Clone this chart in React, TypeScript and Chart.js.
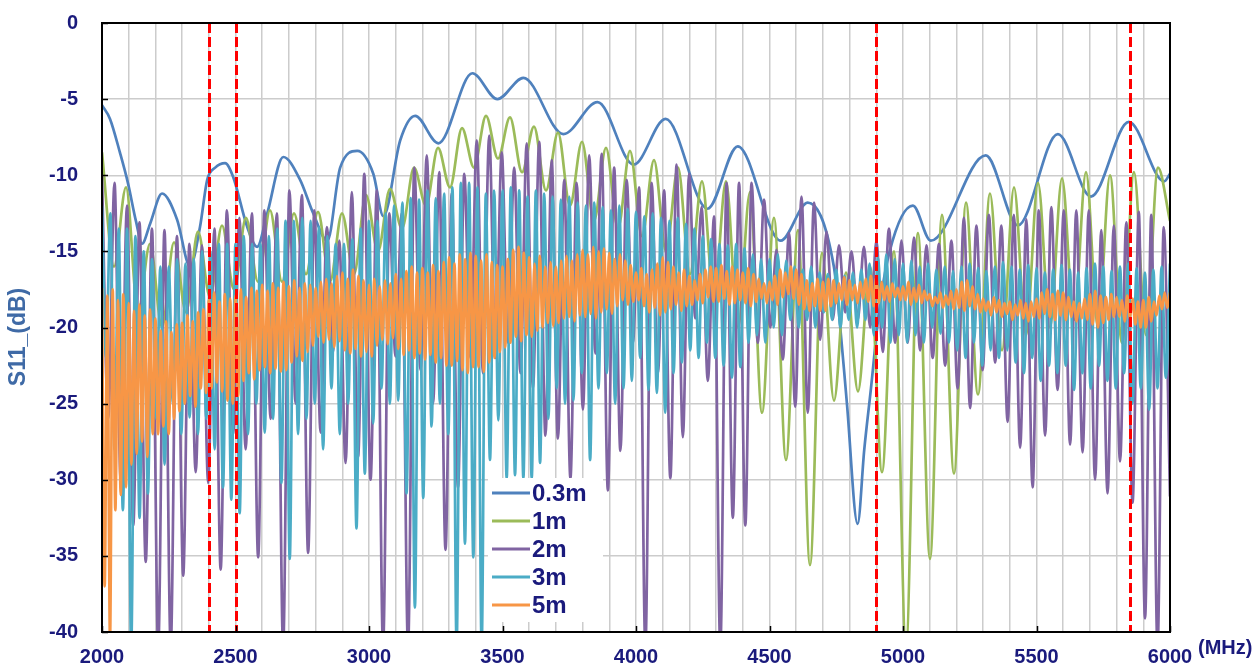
import React, { useEffect, useRef } from 'react';
import { Chart, registerables } from 'chart.js';
Chart.register(...registerables);

// ---------- axis / labels ----------
const FREQ_MIN = 2000;
const FREQ_MAX = 6000;
const FREQ_GRID_STEP = 100;
const FREQ_LABEL_STEP = 500;
const DB_MIN = -40;
const DB_MAX = 0;
const DB_STEP = 5;
const X_UNIT = '(MHz)';
const Y_TITLE = 'S11_(dB)';
const SERIES_NAMES = ['0.3m', '1m', '2m', '3m', '5m'];
const SERIES_COLORS = ['#4F81BD', '#9BBB59', '#8064A2', '#4BACC6', '#F79646'];
const MARKER_FREQS = [2400, 2500, 4900, 5850];

// ---------- 0.3m (explicit points) ----------
const L03_FREQ = [2000, 2030, 2067, 2097, 2127, 2150, 2180, 2225, 2281, 2330, 2367, 2394, 2424, 2461, 2491,
  2544, 2581, 2619, 2679, 2742, 2791, 2844, 2892, 2956, 3016, 3054, 3117, 3173, 3260, 3387,
  3481, 3578, 3728, 3856, 3991, 4111, 4268, 4381, 4542, 4643, 4741, 4760, 4790, 4830, 4855,
  4880, 4910, 4950, 5037, 5104, 5310, 5430, 5580, 5704, 5846, 5978, 6000];
const L03_DB = [-5.4, -6.3, -8.5, -10.5, -13, -14.5, -13.2, -11.2, -12.9, -16, -13.4, -10.3, -9.5, -9.2, -10.1,
  -13.4, -14.7, -12.5, -8.8, -10.3, -12.5, -14.3, -9.5, -8.4, -9.9, -12.7, -7.7, -6.1, -7.9, -3.3,
  -5.0, -3.6, -7.3, -5.2, -9.3, -6.3, -12.2, -8.1, -14.3, -11.8, -16, -19, -25, -32.9, -28,
  -24, -19, -15, -12.0, -14.3, -8.7, -13.3, -7.3, -11.4, -6.5, -10.4, -9.9];

// ---------- 1m (alternating peak / trough, evenly spaced) ----------
const L1_PEAKS = [-8.5, -10.8, -14.5, -14.4, -13.7, -13.3, -12.8, -12.3, -12.5, -12.4,
  -12.5, -11.3, -10.9, -9.5, -8.2, -6.9, -6.1, -6.2, -6.8, -7.2,
  -7.8, -8.2, -8.4, -9.0, -9.5, -10.4, -10.4, -11.1, -12.8, -13.6,
  -15.1, -16.4, -16.0, -15.0, -13.8, -12.6, -11.8, -11.2, -10.8, -10.5,
  -10.2, -9.8, -10.0, -9.8, -9.5];
const L1_TROUGHS = [-16, -19, -20, -19, -18, -17.5, -17, -17, -16.5, -17,
  -16.5, -15, -13.5, -12, -10.8, -9.5, -8.9, -9.8, -11, -12,
  -13, -13.5, -14, -15, -16.5, -18, -20, -25.6, -28.7, -35.6,
  -24.8, -24.2, -29.5, -41, -35.2, -29.6, -24.4, -21.5, -20.5, -20,
  -19.5, -20, -21, -20.5];
const L1_END = -13;

// ---------- 2m ----------
const L2_START = -10;
const L2_TROUGHS = [-26, -30, -33, -35.4, -41, -41, -36.3, -29.5, -30.2, -35.9,
  -27, -28, -35.1, -26, -41, -25, -34.8, -26.9, -21.6, -28.9,
  -28.5, -30, -41, -21.9, -41, -22.8, -25, -34.6, -30.5, -22,
  -23, -22, -21, -23, -24, -27.1, -27.3, -29.9, -25.4, -21.7,
  -30.7, -28.1, -21, -41, -23, -29.9, -27.2, -19.4, -23.5, -41,
  -32.5, -33, -21, -20, -22.1, -25.2, -25.6, -20.8, -19.5, -19,
  -19.5, -20, -21.6, -21, -21, -21.5, -22, -22.5, -24, -25.3,
  -22.8, -22.3, -26.2, -27.9, -30.5, -27.1, -24.1, -27.7, -28.2, -30,
  -30.9, -28.8, -31.5, -39.1, -41];
const L2_PEAKS = [-10.5, -12.0, -13.1, -13.5, -13.6, -14.0, -14.5, -14.6, -13.5, -12.3,
  -12.8, -12.5, -12.3, -12.5, -11.0, -11.3, -12.3, -13.4, -14.3, -11.1,
  -9.9, -11.0, -12.5, -12.5, -9.5, -8.7, -9.8, -11.2, -9.9, -7.7,
  -7.4, -8.5, -9.5, -7.9, -7.8, -9.0, -10.3, -10.5, -8.7, -8.6,
  -9.5, -10.3, -10.8, -10.5, -11.0, -9.3, -9.9, -12.1, -12.7, -10.5,
  -10.5, -10.5, -11.6, -14.9, -13.8, -11.4, -11.8, -13.7, -14.6, -15.0,
  -14.7, -14.3, -13.5, -14.3, -14.1, -14.6, -14.5, -14.3, -12.8, -13.3,
  -12.6, -13.3, -12.6, -12.9, -12.3, -12.1, -12.3, -12.3, -12.3, -13.6,
  -13.3, -13.1, -12.4, -12.6, -13.4];
const L2_END = -31.1;

// ---------- 3m ----------
const L3_PEAKS = [-12, -12.5, -13.5, -13.5, -14, -15, -15.5, -16, -16, -15.5,
  -15.8, -15.5, -15, -15, -14.5, -14.5, -14.5, -14, -14.5, -14.5,
  -14, -13.5, -13, -13, -12.8, -13, -13.4, -14, -14.5, -14.5,
  -14.2, -13.5, -13, -13, -12.5, -12, -11.8, -11.5, -11.6, -11,
  -11.5, -11.2, -10.8, -10.5, -10.5, -10.8, -11.2, -11, -11, -10.8,
  -11, -11.4, -11, -11.2, -11.4, -11.6, -11.4, -11.8, -12, -11.8,
  -12.1, -12.3, -12, -12.2, -12.4, -12.7, -12.5, -12.8, -13, -12.8,
  -13.2, -13.5, -14, -14.2, -14.5, -14.6, -14.5, -14.8, -15.2, -15.5,
  -15.5, -15.2, -15.6, -16, -16.2, -16, -16.4, -16.5, -16.2, -16.6,
  -16.4, -16.2, -15.8, -15.4, -15.2, -15.5, -15.8, -15.6, -16, -15.8,
  -16.2, -16, -16.3, -16, -15.8, -16.1, -16.3, -16, -15.7, -16,
  -16.2, -15.9, -16.1, -16.4, -16.2, -15.9, -16.2, -16.4, -16.1, -15.8,
  -16, -16.3, -16, -15.8, -16.1, -16.4, -16.2, -16, -15.8];
const L3_TROUGHS = [-22, -28, -32, -41, -32.5, -30.9, -26, -29, -25, -27,
  -25.9, -27, -26, -28, -30.5, -31.3, -32.2, -27, -25, -26.9,
  -26, -30.2, -35.2, -27, -26, -25, -28, -24, -27, -25,
  -33.2, -29.6, -26.3, -24, -25, -24.8, -30.9, -38.4, -31.2, -26.5,
  -25, -27, -41, -34.2, -35.1, -41, -28.7, -26.1, -29.9, -29.7,
  -29.9, -29.9, -28.9, -26, -24, -25, -24.8, -23, -28.7, -24,
  -23, -25, -24, -23.5, -22, -24.1, -24.3, -25.6, -23, -22.3,
  -21.5, -22, -21, -22, -22.5, -23.3, -22.6, -21, -20.5, -21,
  -20, -20.5, -19.5, -20, -19.5, -20, -19, -19.5, -20, -19.5,
  -20, -19.5, -20.5, -20, -21, -20.5, -21, -20.5, -21, -20,
  -20.4, -21, -21.5, -22, -21, -22.5, -21.5, -22, -21.5, -22.3,
  -23, -22, -23.5, -22.5, -23, -22.5, -24.1, -23, -24, -22.5,
  -23.5, -24, -23, -25, -24, -25.4, -24, -23.3];

// ---------- 5m ----------
const L5_PEAKS = [-17.4, -17.9, -17.5, -18.2, -17.8, -18.4, -18.9, -18.5, -19.2, -18.8,
  -19.4, -20.2, -19.6, -20.3, -19.8, -19.7, -19.2, -19.6, -19.0, -18.8,
  -18.2, -17.7, -18.3, -17.8, -18.1, -17.9, -17.5, -18.0, -17.4, -17.6,
  -17.2, -17.6, -17.1, -17.4, -17.0, -17.3, -16.9, -17.4, -17.1, -17.2,
  -17.4, -17.0, -16.8, -17.1, -16.6, -16.4, -16.8, -16.2, -16.6, -16.9,
  -17.2, -16.8, -17.3, -16.9, -17.1, -16.5, -16.8, -16.3, -16.0, -16.4,
  -16.1, -16.4, -15.9, -16.3, -15.7, -15.4, -15.8, -15.2, -15.5, -15.1,
  -15.3, -15.6, -15.2, -15.7, -15.9, -16.0, -15.5, -14.9, -14.7, -15.1,
  -15.4, -15.8, -15.3, -16.0, -15.7, -16.0, -15.6, -15.3, -15.6, -15.2,
  -14.9, -15.2, -14.7, -15.0, -14.8, -15.1, -15.5, -15.2, -15.6, -15.9,
  -16.4, -16.1, -16.5, -16.2, -15.8, -15.4, -15.7, -16.0, -16.4, -16.2,
  -16.6, -16.9, -16.5, -16.2, -16.0, -16.1, -15.9, -16.3, -16.0, -16.2,
  -16.4, -16.1, -16.5, -16.8, -17.1, -17.0, -16.6, -16.2, -16.4, -16.0,
  -16.2, -16.5, -16.9, -17.1, -16.8, -17.0, -16.8, -16.9, -17.1, -16.7,
  -16.9, -17.2, -17.0, -16.8, -16.6, -16.7, -17.0, -17.3, -17.1, -17.4,
  -17.3, -17.0, -17.4, -17.2, -17.6, -17.8, -18.0, -17.7, -17.9, -17.6,
  -17.5, -17.0, -16.9, -17.3, -17.8, -18.1, -18.3, -18.0, -18.2, -18.4,
  -18.3, -18.5, -18.2, -18.4, -18.3, -18.1, -17.7, -17.5, -17.8, -17.6,
  -17.7, -18.0, -18.3, -18.4, -18.1, -17.8, -17.6, -17.9, -18.0, -17.8,
  -18.0, -18.2, -17.9, -18.1, -18.3, -18.2, -18.0, -18.3, -17.9, -17.7,
  -17.7];
const L5_TROUGHS = [-37, -40.5, -32, -31, -30.5, -29, -28.3, -27.5, -28.5, -27,
  -27, -26.5, -27, -26, -25.5, -25, -24.5, -25.2, -24, -24.3,
  -24, -23.6, -24.2, -24.8, -25, -24.5, -23.5, -23, -23.4, -22.8,
  -22.6, -23, -22.7, -22.9, -22.8, -22.3, -21.9, -22.2, -21.6, -21.2,
  -20.6, -21, -20.8, -21.3, -20.9, -21.5, -21.7, -21.4, -21.9, -21.6,
  -21.9, -21.2, -20.8, -21.1, -20.7, -21.4, -21.8, -21.5, -22, -21.7,
  -22.1, -21.8, -22.3, -22, -22.5, -22.5, -22.2, -22.8, -23, -22.6,
  -22.6, -22.9, -22.3, -22, -21.6, -21.3, -21, -20.6, -20.9, -20.5,
  -20.6, -20.2, -20, -19.7, -19.9, -19.7, -19.4, -19.3, -19.6, -19.2,
  -19.3, -19.1, -19.4, -19, -18.8, -19.1, -18.6, -18.2, -18.5, -18.3,
  -18.2, -18.6, -19, -18.7, -19.2, -19, -18.8, -18.5, -18.9, -18.6,
  -18.5, -18.2, -18.4, -18, -18.3, -18.3, -18.1, -18.5, -18.4, -18.2,
  -18.4, -18.6, -18.3, -18.1, -18.4, -18.2, -18.5, -18, -17.8, -18.1,
  -18.5, -18.8, -18.9, -18.6, -18.9, -18.9, -18.6, -18.4, -18.2, -18.5,
  -18.2, -18.4, -18.1, -18.3, -18.6, -18.4, -18.2, -18.3, -18, -18.2,
  -18.2, -18.5, -18.3, -18.4, -18.2, -18.6, -18.4, -18.7, -18.5, -18.8,
  -18.7, -18.9, -18.6, -18.8, -19, -18.9, -19.2, -19, -19.3, -19.1,
  -19.5, -19.2, -19.4, -19.6, -19.3, -19.4, -19.1, -19.3, -19.5, -19.2,
  -19.5, -19.3, -19.6, -19.4, -19.5, -19.8, -20, -19.7, -19.5, -19.3,
  -19.3, -19.6, -19.4, -19.8, -20, -20, -19.6, -19.2, -18.8, -18.7];

// ---------- helpers ----------
function interleave(a: number[], b: number[]): number[] {
  const out: number[] = [];
  const n = Math.max(a.length, b.length);
  for (let i = 0; i < n; i++) {
    if (i < a.length) out.push(a[i]);
    if (i < b.length) out.push(b[i]);
  }
  return out;
}
function spread(values: number[]) {
  const step = (FREQ_MAX - FREQ_MIN) / (values.length - 1);
  return values.map((y, i) => ({ x: FREQ_MIN + i * step, y }));
}
function range(a: number, b: number, s: number) {
  const out: number[] = [];
  for (let v = a; v <= b + 1e-9; v += s) out.push(v);
  return out;
}

const NAVY = '#1a1a7c';
const FONT = "'Liberation Sans', Arial, sans-serif";

const overlay = {
  id: 'overlay',
  afterDatasetsDraw(chart: any) {
    const { ctx, chartArea: a, scales } = chart;
    const x = scales.x;
    const y = scales.y;
    ctx.save();
    // red dashed markers
    ctx.strokeStyle = '#ff0000';
    ctx.lineWidth = 3;
    ctx.setLineDash([10, 4]);
    MARKER_FREQS.forEach((f) => {
      const px = Math.round(x.getPixelForValue(f)) + 0.5;
      ctx.beginPath();
      ctx.moveTo(px, a.top);
      ctx.lineTo(px, a.bottom);
      ctx.stroke();
    });
    ctx.setLineDash([]);
    // legend
    ctx.fillStyle = '#ffffff';
    ctx.fillRect(488, 478, 115, 144);
    ctx.font = `bold 24px ${FONT}`;
    ctx.textBaseline = 'middle';
    ctx.textAlign = 'left';
    SERIES_NAMES.forEach((name, i) => {
      const yy = 493 + i * 28;
      ctx.strokeStyle = SERIES_COLORS[i];
      ctx.lineWidth = 3;
      ctx.beginPath();
      ctx.moveTo(492, yy);
      ctx.lineTo(530, yy);
      ctx.stroke();
      ctx.fillStyle = NAVY;
      ctx.fillText(name, 532, yy + 1);
    });
    // frame
    ctx.strokeStyle = '#000';
    ctx.lineWidth = 2;
    ctx.strokeRect(a.left, a.top, a.right - a.left, a.bottom - a.top);
    ctx.lineWidth = 1.5;
    range(DB_MIN, DB_MAX, DB_STEP).forEach((v) => {
      const py = Math.round(y.getPixelForValue(v)) + 0.5;
      ctx.beginPath();
      ctx.moveTo(a.left, py);
      ctx.lineTo(a.left + 6, py);
      ctx.stroke();
    });
    range(FREQ_MIN, FREQ_MAX, FREQ_LABEL_STEP).forEach((v) => {
      const px = Math.round(x.getPixelForValue(v)) + 0.5;
      ctx.beginPath();
      ctx.moveTo(px, a.bottom);
      ctx.lineTo(px, a.bottom - 6);
      ctx.stroke();
    });
    // texts
    ctx.fillStyle = NAVY;
    ctx.font = `bold 20px ${FONT}`;
    ctx.textAlign = 'left';
    ctx.textBaseline = 'middle';
    ctx.fillText(X_UNIT, 1198, 648);
    ctx.save();
    ctx.translate(19, 337);
    ctx.rotate(-Math.PI / 2);
    ctx.textAlign = 'center';
    ctx.fillStyle = '#3f6aa6';
    ctx.font = `bold 23px ${FONT}`;
    ctx.fillText(Y_TITLE, 0, 0);
    ctx.restore();
    ctx.restore();
  },
};

export default function App() {
  const ref = useRef<HTMLCanvasElement>(null);
  useEffect(() => {
    document.body.style.margin = '0';
    const series = [
      L03_FREQ.map((f, i) => ({ x: f, y: L03_DB[i] })),
      spread([...interleave(L1_PEAKS, L1_TROUGHS), L1_END]),
      spread([L2_START, ...interleave(L2_TROUGHS, L2_PEAKS), L2_END]),
      spread(interleave(L3_PEAKS, L3_TROUGHS)),
      spread(interleave(L5_PEAKS, L5_TROUGHS)),
    ];
    const chart = new Chart(ref.current as HTMLCanvasElement, {
      type: 'line',
      data: {
        datasets: series.map((d, i) => ({
          label: SERIES_NAMES[i],
          data: d,
          borderColor: SERIES_COLORS[i],
          backgroundColor: SERIES_COLORS[i],
          borderWidth: 2.7,
          pointRadius: 0,
          fill: false,
          cubicInterpolationMode: 'monotone',
          borderJoinStyle: 'round',
          clip: 0,
          order: SERIES_NAMES.length - i,
        })),
      },
      options: {
        responsive: false,
        devicePixelRatio: 1,
        animation: false,
        events: [],
        layout: { padding: { top: 23, right: 90, left: 0, bottom: 0 } },
        plugins: { legend: { display: false }, tooltip: { enabled: false } },
        scales: {
          x: {
            type: 'linear',
            min: FREQ_MIN,
            max: FREQ_MAX,
            afterBuildTicks: (s: any) => {
              s.ticks = range(FREQ_MIN, FREQ_MAX, FREQ_GRID_STEP).map((v) => ({ value: v }));
            },
            afterFit: (s: any) => {
              s.height = 36;
              s.paddingLeft = 0;
              s.paddingRight = 0;
            },
            ticks: {
              autoSkip: false,
              maxRotation: 0,
              padding: 13,
              color: NAVY,
              font: { family: FONT, size: 20, weight: 'bold' },
              callback: (v: any) => (Number(v) % FREQ_LABEL_STEP === 0 ? String(v) : ''),
            },
            grid: { color: '#cccccc', lineWidth: 1.5, drawTicks: false },
            border: { display: false },
          },
          y: {
            type: 'linear',
            min: DB_MIN,
            max: DB_MAX,
            afterBuildTicks: (s: any) => {
              s.ticks = range(DB_MIN, DB_MAX, DB_STEP).map((v) => ({ value: v }));
            },
            afterFit: (s: any) => {
              s.width = 102;
              s.paddingTop = 0;
              s.paddingBottom = 0;
            },
            ticks: {
              padding: 24,
              color: NAVY,
              font: { family: FONT, size: 20, weight: 'bold' },
              callback: (v: any) => String(v),
            },
            grid: { color: '#cccccc', lineWidth: 1.5, drawTicks: false },
            border: { display: false },
          },
        },
      },
      plugins: [overlay],
    } as any);
    return () => chart.destroy();
  }, []);
  return (
    <div style={{ width: 1260, height: 668 }}>
      <canvas ref={ref} width={1260} height={668} style={{ display: 'block' }} />
    </div>
  );
}
